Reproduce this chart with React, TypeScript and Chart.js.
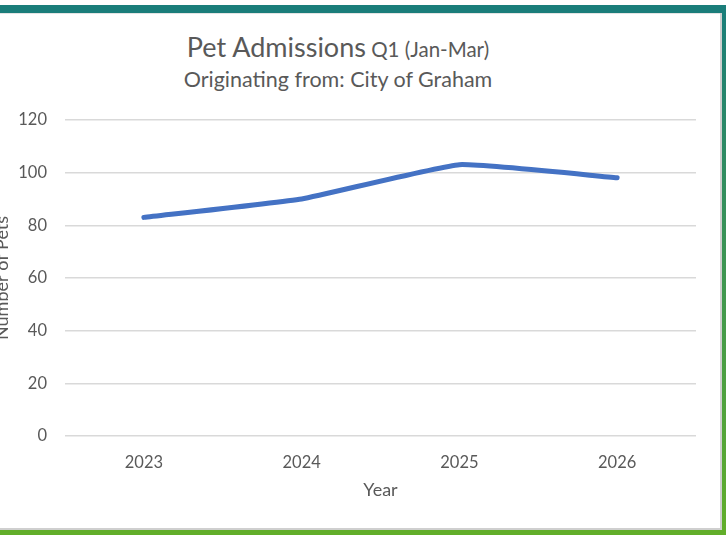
import React, { useEffect, useRef } from "react";
import { Chart, registerables } from "chart.js";

Chart.register(...registerables);

const categories: string[] = ["2023", "2024", "2025", "2026"];
const petAdmissions: number[] = [83, 90, 103, 98];
const yTicks: number[] = [0, 20, 40, 60, 80, 100, 120];

const titleMain = "Pet Admissions";
const titleQuarter = "Q1 (Jan-Mar)";
const subtitle = "Originating from: City of Graham";
const xTitle = "Year";
const yTitle = "Number of Pets";

const FONT = "Lato, 'Open Sans', sans-serif";
const TEXT = "#595959";
const GRID = "#d9d9d9";
const LINE = "#4472c4";
const TEAL = "#1a7d7a";
const GREEN = "#62ae2a";

export default function App() {
  const canvasRef = useRef<HTMLCanvasElement | null>(null);

  useEffect(() => {
    const canvas = canvasRef.current;
    if (!canvas) return;
    const chart = new Chart(canvas, {
      type: "line",
      data: {
        labels: categories,
        datasets: [
          {
            label: "Pet Admissions",
            data: petAdmissions,
            borderColor: LINE,
            backgroundColor: LINE,
            borderWidth: 5,
            borderCapStyle: "round",
            borderJoinStyle: "round",
            pointRadius: 0,
            pointHoverRadius: 0,
            tension: 0.12,
          },
        ],
      },
      options: {
        responsive: false,
        animation: false,
        devicePixelRatio: 1,
        layout: { padding: { top: 0, right: 24, bottom: 19, left: 0 } },
        plugins: {
          legend: { display: false },
          tooltip: { enabled: false },
          title: { display: false },
        },
        scales: {
          x: {
            type: "category",
            offset: true,
            grid: { display: false, drawTicks: false },
            border: { display: false },
            ticks: {
              color: TEXT,
              padding: 17,
              font: { family: FONT, size: 16.5 },
              maxRotation: 0,
            },
            title: {
              display: true,
              text: xTitle,
              color: TEXT,
              padding: { top: 0, bottom: 0 },
              font: { family: FONT, size: 18 },
            },
            afterFit: (scale: any) => {
              scale.height = 65;
            },
          },
          y: {
            min: 0,
            max: 120,
            afterBuildTicks: (scale: any) => {
              scale.ticks = yTicks.map((v) => ({ value: v }));
            },
            grid: { color: GRID, lineWidth: 1.5, drawTicks: false },
            border: { display: false },
            ticks: {
              color: TEXT,
              padding: 18,
              font: { family: FONT, size: 16.5 },
            },
            title: {
              display: true,
              text: yTitle,
              color: TEXT,
              padding: { top: 0, bottom: 0 },
              font: { family: FONT, size: 18 },
            },
            afterFit: (scale: any) => {
              scale.width = 74;
            },
          },
        },
      },
    });
    return () => chart.destroy();
  }, []);

  return (
    <div
      style={{
        position: "fixed",
        left: 0,
        top: 0,
        width: 726,
        height: 535,
        background: "#ffffff",
        overflow: "hidden",
        fontFamily: FONT,
      }}
    >
      <div style={{ position: "absolute", left: 0, top: 5, width: 726, height: 8, background: TEAL }} />
      <div style={{ position: "absolute", left: 0, top: 13, width: 720, height: 1, background: "#e4e4e4" }} />
      <div
        style={{
          position: "absolute",
          left: 722,
          top: 5,
          width: 4,
          height: 530,
          background: `linear-gradient(to bottom, ${TEAL}, ${GREEN})`,
        }}
      />
      <div style={{ position: "absolute", left: 720, top: 13, width: 2, height: 517, background: "#cfcfcf" }} />
      <div style={{ position: "absolute", left: 0, top: 528, width: 722, height: 2, background: "#cfcfcf" }} />
      <div style={{ position: "absolute", left: 0, top: 530, width: 726, height: 5, background: GREEN }} />

      <div
        style={{
          position: "absolute",
          left: 0,
          top: 31,
          width: 676,
          textAlign: "center",
          color: TEXT,
          whiteSpace: "nowrap",
          lineHeight: "32px",
        }}
      >
        <span style={{ fontSize: 27 }}>{titleMain}</span>
        <span style={{ fontSize: 20.5 }}>{" " + titleQuarter}</span>
      </div>
      <div
        style={{
          position: "absolute",
          left: 0,
          top: 66,
          width: 676,
          textAlign: "center",
          color: TEXT,
          whiteSpace: "nowrap",
          fontSize: 21.5,
          lineHeight: "26px",
        }}
      >
        {subtitle}
      </div>

      <canvas
        ref={canvasRef}
        width={729}
        height={428}
        style={{ position: "absolute", left: -9, top: 92, width: 729, height: 428 }}
      />
    </div>
  );
}
